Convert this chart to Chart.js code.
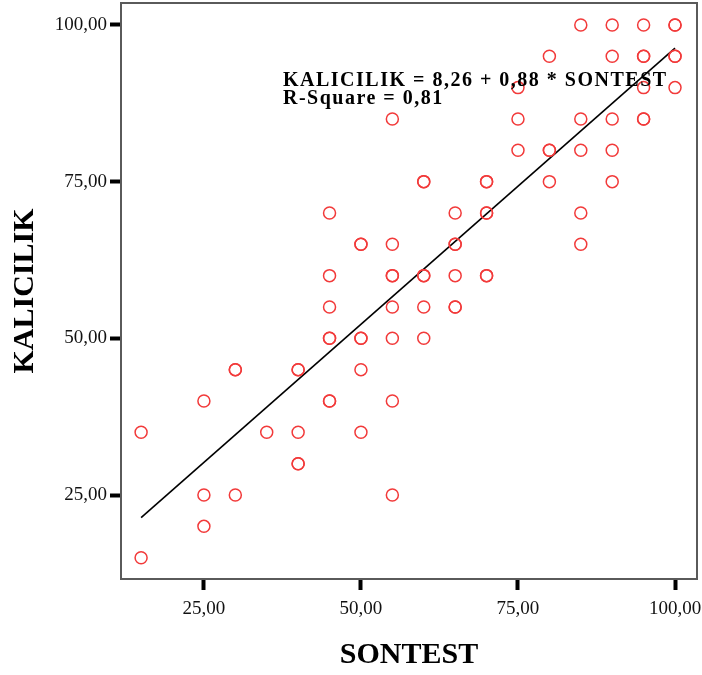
<!DOCTYPE html>
<html>
<head>
<meta charset="utf-8">
<script src="https://cdn.jsdelivr.net/npm/chart.js@4/dist/chart.umd.min.js"></script>
<style>
  html, body { margin: 0; padding: 0; background: #fff; }
  #wrap { width: 702px; height: 675px; position: relative; }
</style>
</head>
<body>
<div id="wrap"><canvas id="grafico"></canvas></div>
<script>
// --- DADOS ---
// pontos SONTEST / KALICILIK (repetidos = círculos mais grossos)
const sontest = [
  15, 15,
  25, 25, 25,
  30, 30, 30,
  35,
  40, 40, 40, 40, 40,
  45, 45, 45, 45, 45, 45, 45,
  50, 50, 50, 50, 50, 50,
  55, 55, 55, 55, 55, 55, 55, 55,
  60, 60, 60, 60, 60, 60,
  65, 65, 65, 65, 65, 65,
  70, 70, 70, 70, 70, 70,
  75, 75, 75,
  80, 80, 80, 80,
  85, 85, 85, 85, 85,
  90, 90, 90, 90, 90,
  95, 95, 95, 95, 95, 95,
  100, 100, 100, 100, 100
];
const kalicilik = [
  35, 15,
  40, 25, 20,
  45, 45, 25,
  35,
  45, 45, 35, 30, 30,
  70, 60, 55, 50, 50, 40, 40,
  65, 65, 50, 50, 45, 35,
  85, 65, 60, 60, 55, 50, 40, 25,
  75, 75, 60, 60, 55, 50,
  70, 65, 65, 60, 55, 55,
  75, 75, 70, 70, 60, 60,
  90, 85, 80,
  95, 80, 80, 75,
  100, 85, 80, 70, 65,
  100, 95, 85, 80, 75,
  100, 95, 95, 90, 85, 85,
  100, 100, 95, 95, 90
];

// linha de regressão (extremos)
const linhaX = [15, 100];
const linhaY = [21.4, 96.3];

const xTicks = [25, 50, 75, 100];
const yTicks = [25, 50, 75, 100];

const equacao = ['KALICILIK = 8,26 + 0,88 * SONTEST', 'R-Square = 0,81'];

const serif = '"Liberation Serif", "Times New Roman", serif';
const fmt = v => v.toFixed(2).replace('.', ',');

// moldura cinzenta + texto da equação
const molduraPlugin = {
  id: 'moldura',
  afterDatasetsDraw(chart) {
    const { ctx, chartArea: a } = chart;
    ctx.save();
    ctx.strokeStyle = '#5a5a5a';
    ctx.lineWidth = 2;
    ctx.strokeRect(a.left, a.top, a.right - a.left, a.bottom - a.top);

    ctx.fillStyle = '#000';
    ctx.font = 'bold 20px ' + serif;
    ctx.letterSpacing = '1.5px';
    ctx.textAlign = 'left';
    ctx.textBaseline = 'alphabetic';
    ctx.fillText(equacao[0], 283, 86);
    ctx.fillText(equacao[1], 283, 104);
    ctx.restore();
  }
};

const pontos = sontest.map((x, i) => ({ x: x, y: kalicilik[i] }));
const linha = linhaX.map((x, i) => ({ x: x, y: linhaY[i] }));

new Chart(document.getElementById('grafico'), {
  type: 'scatter',
  data: {
    datasets: [
      {
        label: 'Observados',
        data: pontos,
        pointStyle: 'circle',
        pointRadius: 6,
        pointHoverRadius: 6,
        borderWidth: 1.5,
        borderColor: '#f23a3a',
        backgroundColor: 'rgba(0,0,0,0)'
      },
      {
        type: 'line',
        label: 'Linear',
        data: linha,
        borderColor: '#000',
        borderWidth: 1.6,
        pointRadius: 0,
        fill: false
      }
    ]
  },
  options: {
    responsive: true,
    maintainAspectRatio: false,
    animation: false,
    layout: { autoPadding: false, padding: { left: 0, right: 5, top: 3, bottom: 0 } },
    plugins: { legend: { display: false }, tooltip: { enabled: false } },
    scales: {
      x: {
        type: 'linear',
        min: 11.8,
        max: 103.5,
        afterBuildTicks: s => { s.ticks = xTicks.map(v => ({ value: v })); },
        afterFit: s => { s.height = 96; s.paddingLeft = 0; s.paddingRight = 0; },
        border: { display: false },
        grid: { drawOnChartArea: false, drawTicks: true, tickLength: 11, tickWidth: 4, tickColor: '#000' },
        ticks: {
          padding: 8,
          color: '#111',
          font: { family: serif, size: 19 },
          callback: v => fmt(v)
        },
        title: {
          display: true,
          text: 'SONTEST',
          color: '#000',
          font: { family: serif, size: 30, weight: 'bold' },
          padding: { top: 0, bottom: 2 }
        }
      },
      y: {
        type: 'linear',
        min: 11.6,
        max: 103.5,
        afterBuildTicks: s => { s.ticks = yTicks.map(v => ({ value: v })); },
        afterFit: s => { s.width = 121; s.paddingTop = 0; s.paddingBottom = 0; },
        border: { display: false },
        grid: { drawOnChartArea: false, drawTicks: true, tickLength: 11, tickWidth: 4, tickColor: '#000' },
        ticks: {
          padding: 3,
          color: '#111',
          font: { family: serif, size: 19 },
          callback: v => fmt(v)
        },
        title: {
          display: true,
          text: 'KALICILIK',
          color: '#000',
          font: { family: serif, size: 30, weight: 'bold' },
          padding: { top: 7, bottom: 0 }
        }
      }
    }
  },
  plugins: [molduraPlugin]
});
</script>
</body>
</html>
